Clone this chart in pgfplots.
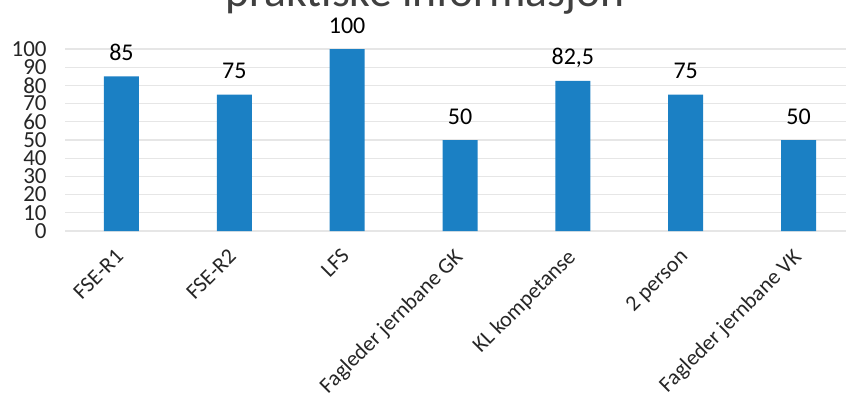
\documentclass[border=0pt]{standalone}
\usepackage{fontspec}
\setmainfont{Carlito}
\usepackage{pgfplots}
\pgfplotsset{compat=1.18}
\definecolor{barblue}{RGB}{27,128,196}
\definecolor{gridgray}{RGB}{230,230,230}
\begin{document}
\begin{tikzpicture}
\useasboundingbox (-32.5pt,-85.5pt) rectangle (390.5pt,115.5pt);
\clip (-32.5pt,-85.5pt) rectangle (390.5pt,115.5pt);
\begin{axis}[
  at={(0,0)}, anchor=south west,
  scale only axis, width=395pt, height=91pt,
  xmin=-0.5, xmax=6.5, ymin=0, ymax=100,
  ytick={0,10,...,100},
  xtick={0,...,6},
  xticklabels={FSE-R1, FSE-R2, LFS, Fagleder jernbane GK, KL kompetanse, 2 person, Fagleder jernbane VK},
  axis line style={draw=none},
  major tick length=0pt,
  ymajorgrids, grid style={gridgray, line width=0.6pt},
  yticklabel style={font=\fontsize{11.5pt}{13pt}\selectfont, text=black!85, anchor=east, inner sep=0pt, xshift=-9pt},
  xticklabel style={font=\fontsize{11pt}{13pt}\selectfont, text=black!85, yshift=-8pt, xshift=-3.5pt, rotate=45, anchor=north east, inner sep=0pt},
  /pgf/number format/assume math mode=true,
  ybar, bar width=17.5pt,
  nodes near coords,
  nodes near coords style={font=\fontsize{12pt}{14pt}\selectfont, anchor=base, inner sep=0pt, yshift=8pt, /pgf/number format/use comma},
  clip=false,
]
\addplot[fill=barblue, draw=none] coordinates {(0,85) (1,75) (2,100) (3,50) (4,82.5) (5,75) (6,50)};
\end{axis}
\node[anchor=base west, font=\fontsize{22.8pt}{27pt}\selectfont, text=black!75, inner sep=0pt] at (80pt,112pt) {praktiske informasjon};
\end{tikzpicture}
\end{document}
